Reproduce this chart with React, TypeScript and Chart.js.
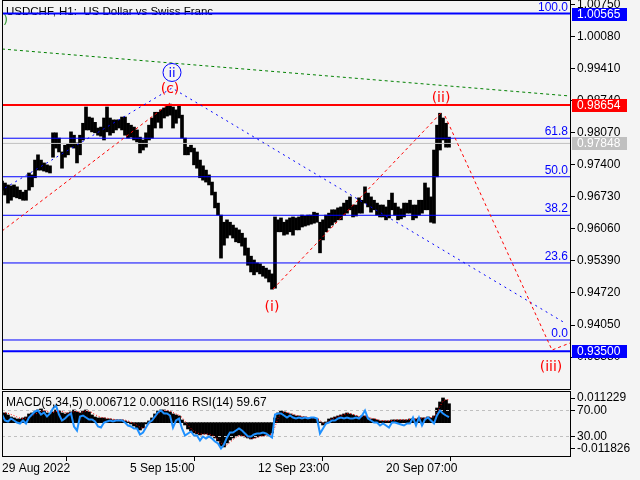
import React, { useEffect, useRef } from "react";
import { Chart, registerables } from "chart.js";

Chart.register(...registerables);

const FONT = '"Liberation Sans", Arial, sans-serif';
const WAVE_FONT = '"DejaVu Sans", sans-serif';

// ---------- data ----------
const BAR_STEP = 3; // bar index spacing between samples (hours)
const X_MAX = 568;

const titleText = "USDCHF, H1:  US Dollar vs Swiss Franc";
const indicatorText = "MACD(5,34,5) 0.006712 0.008116 RSI(14) 59.67";

const timeTickIdx = [0, 128, 256, 384];
const timeTickLabels = ["29 Aug 2022", "5 Sep 15:00", "12 Sep 23:00", "20 Sep 07:00"];

const PRICE_MIN = 0.92712;
const PRICE_MAX = 1.00827;
const priceTicks = [1.0075, 1.0008, 0.9941, 0.9874, 0.9807, 0.974, 0.9673, 0.9606, 0.9539, 0.9472, 0.9405, 0.9338];

const priceHigh = [
  0.9706, 0.9702, 0.9698, 0.9696, 0.9698, 0.9694, 0.9687, 0.9683, 0.9687, 0.9723,
  0.9719, 0.9750, 0.9761, 0.9750, 0.9744, 0.9740, 0.9738, 0.9807, 0.9807, 0.9796,
  0.9767, 0.9781, 0.9783, 0.9809, 0.9802, 0.9786, 0.9802, 0.9827, 0.9861, 0.9840,
  0.9838, 0.9829, 0.9817, 0.9819, 0.9838, 0.9861, 0.9838, 0.9834, 0.9834, 0.9834,
  0.9840, 0.9840, 0.9827, 0.9823, 0.9819, 0.9813, 0.9798, 0.9792, 0.9807, 0.9823,
  0.9838, 0.9850, 0.9850, 0.9855, 0.9859, 0.9863, 0.9867, 0.9861, 0.9855, 0.9865,
  0.9844, 0.9796, 0.9777, 0.9781, 0.9775, 0.9767, 0.9750, 0.9738, 0.9729, 0.9719,
  0.9704, 0.9683, 0.9660, 0.9635, 0.9620, 0.9625, 0.9620, 0.9614, 0.9608, 0.9604,
  0.9597, 0.9587, 0.9566, 0.9549, 0.9541, 0.9535, 0.9533, 0.9528, 0.9524, 0.9520,
  0.9512, 0.9631, 0.9625, 0.9629, 0.9620, 0.9625, 0.9629, 0.9631, 0.9629, 0.9631,
  0.9635, 0.9633, 0.9635, 0.9635, 0.9641, 0.9639, 0.9620, 0.9625, 0.9635, 0.9639,
  0.9646, 0.9646, 0.9650, 0.9652, 0.9660, 0.9666, 0.9673, 0.9656, 0.9656, 0.9671,
  0.9666, 0.9694, 0.9681, 0.9673, 0.9666, 0.9660, 0.9656, 0.9656, 0.9652, 0.9666,
  0.9681, 0.9660, 0.9652, 0.9648, 0.9660, 0.9660, 0.9666, 0.9656, 0.9656, 0.9666,
  0.9666, 0.9702, 0.9692, 0.9673, 0.9771, 0.9823, 0.9848, 0.9838, 0.9827, 0.9798,
];

const priceLow = [
  0.9687, 0.9677, 0.9660, 0.9666, 0.9673, 0.9671, 0.9669, 0.9666, 0.9666, 0.9687,
  0.9694, 0.9713, 0.9729, 0.9729, 0.9727, 0.9725, 0.9723, 0.9756, 0.9775, 0.9767,
  0.9733, 0.9756, 0.9761, 0.9777, 0.9775, 0.9744, 0.9761, 0.9792, 0.9813, 0.9813,
  0.9809, 0.9807, 0.9802, 0.9800, 0.9792, 0.9809, 0.9802, 0.9807, 0.9813, 0.9817,
  0.9813, 0.9802, 0.9796, 0.9798, 0.9792, 0.9788, 0.9765, 0.9771, 0.9777, 0.9792,
  0.9796, 0.9817, 0.9829, 0.9817, 0.9838, 0.9842, 0.9844, 0.9817, 0.9827, 0.9838,
  0.9796, 0.9761, 0.9761, 0.9767, 0.9740, 0.9733, 0.9713, 0.9708, 0.9704, 0.9698,
  0.9677, 0.9650, 0.9635, 0.9545, 0.9572, 0.9587, 0.9593, 0.9587, 0.9579, 0.9577,
  0.9570, 0.9551, 0.9530, 0.9516, 0.9510, 0.9516, 0.9512, 0.9507, 0.9503, 0.9495,
  0.9480, 0.9482, 0.9600, 0.9600, 0.9593, 0.9595, 0.9600, 0.9593, 0.9604, 0.9604,
  0.9610, 0.9612, 0.9614, 0.9616, 0.9618, 0.9620, 0.9556, 0.9583, 0.9600, 0.9608,
  0.9614, 0.9620, 0.9625, 0.9625, 0.9635, 0.9639, 0.9646, 0.9631, 0.9633, 0.9639,
  0.9639, 0.9660, 0.9652, 0.9641, 0.9646, 0.9635, 0.9631, 0.9631, 0.9625, 0.9629,
  0.9646, 0.9635, 0.9625, 0.9627, 0.9631, 0.9639, 0.9639, 0.9625, 0.9629, 0.9635,
  0.9639, 0.9646, 0.9646, 0.9620, 0.9618, 0.9715, 0.9771, 0.9792, 0.9777, 0.9777,
];

const macdHist = [
  0.00344, 0.00344, 0.00273, 0.00202, 0.00167, 0.00131, 0.00131, 0.00167, 0.00202, 0.00309,
  0.00344, 0.0038, 0.0045, 0.00486, 0.00415, 0.00344, 0.00309, 0.0038, 0.0045, 0.00415,
  0.00344, 0.00309, 0.00344, 0.0038, 0.0045, 0.0038, 0.00344, 0.00415, 0.0045, 0.0038,
  0.00273, 0.00202, 0.00167, 0.00167, 0.00167, 0.00131, 0.00131, 0.00096, 0.00096, 0.00096,
  0.00096, 0.0006, 0.00025, -0.00046, -0.00117, -0.00188, -0.00259, -0.00188, -0.00046, 0.0006,
  0.00167, 0.00309, 0.00415, 0.0045, 0.0045, 0.00415, 0.0038, 0.00309, 0.00273, 0.00238,
  0.00096, -0.00082, -0.00223, -0.00294, -0.00365, -0.00401, -0.00436, -0.00401, -0.00401, -0.00436,
  -0.00472, -0.00543, -0.00649, -0.00826, -0.00862, -0.0072, -0.00614, -0.00543, -0.00472, -0.00436,
  -0.00472, -0.00507, -0.00543, -0.00578, -0.00543, -0.00507, -0.00472, -0.00472, -0.00436, -0.00436,
  -0.00365, 0.00167, 0.00344, 0.00415, 0.0038, 0.00344, 0.00309, 0.00273, 0.00238, 0.00238,
  0.00202, 0.00202, 0.00167, 0.00167, 0.00167, 0.00131, 0.00025, -0.00082, 0.00025, 0.00131,
  0.00167, 0.00202, 0.00238, 0.00273, 0.00309, 0.00344, 0.00309, 0.00273, 0.00238, 0.00202,
  0.00238, 0.00238, 0.00167, 0.00131, 0.00131, 0.00096, 0.0006, 0.0006, 0.0006, 0.0006,
  0.00096, 0.00096, 0.00096, 0.00096, 0.00096, 0.00096, 0.00131, 0.00131, 0.00131, 0.00167,
  0.00167, 0.00167, 0.00202, 0.00167, 0.00238, 0.00521, 0.00734, 0.00876, 0.00805, 0.00671,
];

const macdSignal = [
  0.0036, 0.0035, 0.0033, 0.0029, 0.0025, 0.002, 0.0016, 0.0015, 0.0016, 0.0019,
  0.0025, 0.003, 0.0035, 0.004, 0.0043, 0.0041, 0.0037, 0.0036, 0.0039, 0.0042,
  0.004, 0.0036, 0.0034, 0.0035, 0.0039, 0.004, 0.0037, 0.0038, 0.0041, 0.0041,
  0.0036, 0.0029, 0.0023, 0.0019, 0.0017, 0.0016, 0.0014, 0.0012, 0.0011, 0.001,
  0.001, 0.0009, 0.0006, 0.0002, -0.0003, -0.0009, -0.0016, -0.002, -0.0015, -0.0006,
  0.0006, 0.0018, 0.003, 0.0039, 0.0043, 0.0044, 0.0041, 0.0036, 0.0031, 0.0027,
  0.0019, 0.0005, -0.001, -0.0021, -0.003, -0.0036, -0.004, -0.0041, -0.004, -0.0041,
  -0.0044, -0.005, -0.0059, -0.0072, -0.0081, -0.0079, -0.007, -0.006, -0.0052, -0.0046,
  -0.0045, -0.0048, -0.0052, -0.0056, -0.0056, -0.0053, -0.0049, -0.0047, -0.0045, -0.0044,
  -0.0041, -0.0015, 0.0015, 0.0033, 0.0038, 0.0036, 0.0033, 0.003, 0.0026, 0.0024,
  0.0022, 0.002, 0.0019, 0.0017, 0.0017, 0.0015, 0.0008, -0.0002, -0.0002, 0.0007,
  0.0014, 0.0018, 0.0022, 0.0025, 0.0029, 0.0032, 0.0032, 0.0029, 0.0026, 0.0022,
  0.0022, 0.0023, 0.002, 0.0016, 0.0014, 0.0011, 0.0008, 0.0007, 0.0006, 0.0006,
  0.0008, 0.0009, 0.001, 0.001, 0.001, 0.001, 0.0012, 0.0013, 0.0013, 0.0015,
  0.0016, 0.0016, 0.0018, 0.0018, 0.0021, 0.0035, 0.0058, 0.0076, 0.0082, 0.008116,
];

const rsiValues = [
  63.8, 54.6, 53.1, 57.7, 54.6, 51.5, 50.0, 54.6, 50.0, 59.2,
  63.8, 68.5, 70.0, 63.8, 66.9, 60.8, 65.4, 73.1, 77.7, 63.8,
  54.6, 57.7, 62.3, 65.4, 45.4, 39.2, 60.8, 62.3, 59.2, 56.2,
  56.2, 53.1, 45.4, 43.8, 51.5, 53.1, 54.6, 53.1, 54.6, 54.6,
  54.6, 51.5, 46.9, 45.4, 42.3, 42.3, 33.1, 36.2, 43.8, 51.5,
  54.6, 60.8, 66.9, 70.0, 65.4, 65.4, 62.3, 43.8, 54.6, 57.7,
  42.3, 31.5, 34.6, 37.7, 31.5, 31.5, 23.9, 30.0, 26.9, 30.0,
  26.9, 22.3, 19.2, 11.5, 17.7, 28.5, 36.2, 36.2, 39.2, 42.3,
  39.2, 34.6, 30.0, 30.0, 33.1, 34.6, 34.6, 36.2, 34.6, 31.5,
  28.5, 63.8, 65.4, 65.4, 62.3, 59.2, 62.3, 59.2, 57.7, 59.2,
  57.7, 59.2, 57.7, 59.2, 59.2, 57.7, 34.6, 42.3, 50.0, 51.5,
  54.6, 54.6, 57.7, 59.2, 57.7, 59.2, 57.7, 57.7, 59.2, 57.7,
  62.3, 70.0, 57.7, 54.6, 51.5, 51.5, 46.9, 50.0, 46.9, 43.8,
  51.5, 51.5, 50.0, 48.5, 46.9, 50.0, 50.0, 59.2, 46.9, 59.2,
  46.9, 56.2, 59.2, 54.6, 50.0, 62.3, 70.0, 65.4, 62.3, 59.67,
];

// Fibonacci levels
const fibLabels = ["100.0", "61.8", "50.0", "38.2", "23.6", "0.0"];
const fibPrices = [1.00565, 0.97957, 0.97151, 0.96345, 0.95348, 0.93737];

// Other horizontal levels
const resistanceLevel = 0.98654;
const bidLevel = 0.97848;
const targetLevel = 0.935;

// Marked prices on the axis
const markedPrices = [1.00565, 0.98654, 0.97848, 0.935];

// Trend / wave lines (bar index, price)
const greenLineIdx = [0, 568];
const greenLinePrice = [0.99823, 0.9884];
const blueWaveIdx = [3, 170, 563];
const blueWavePrice = [0.96916, 0.99007, 0.94092];
const redCIdx = [0, 168];
const redCPrice = [0.96016, 0.98694];
const redUpIdx = [271, 439];
const redUpPrice = [0.94803, 0.98484];
const redDownIdx = [443, 550, 568];
const redDownPrice = [0.98422, 0.93527, 0.93674];

// Wave labels
const waveLabels = ["(c)", "(ii)", "(i)", "(iii)"];
const waveLabelIdx = [168, 439, 270, 549];
const waveLabelPrice = [0.98976, 0.98788, 0.94427, 0.93161];
const circleLabel = "ii";
const circleLabelIdx = 170;
const circleLabelPrice = 0.99332;

// Sub window
const MACD_MAX = 0.011229;
const MACD_MIN = -0.011826;
const rsiLevels = [70, 30];
const subTickPos = [89, 70, 30, 11];
const subTickLabels = ["0.011229", "70.00", "30.00", "-0.011826"];

// ---------- helpers ----------
const pts = (idx: number[], vals: number[]) => idx.map((x, i) => ({ x, y: vals[i] }));
const series = (vals: number[]) => vals.map((v, i) => ({ x: i * BAR_STEP, y: v }));

function hLine(price: number, color: string, width: number, dash: number[] = [], yAxisID = "y") {
  return {
    type: "line",
    data: [{ x: 0, y: price }, { x: X_MAX, y: price }],
    borderColor: color,
    borderWidth: width,
    borderDash: dash,
    pointRadius: 0,
    yAxisID,
    order: 2,
  };
}

function segLine(data: any[], color: string, dash: number[]) {
  return {
    type: "line",
    data,
    borderColor: color,
    borderWidth: 1,
    borderDash: dash,
    pointRadius: 0,
    tension: 0,
    order: 1,
  };
}

const mainDecor = {
  id: "mainDecor",
  beforeDatasetsDraw(chart: any) {
    const ctx = chart.ctx;
    ctx.save();
    ctx.fillStyle = "#000";
    ctx.font = `11.5px ${FONT}`;
    ctx.textAlign = "left";
    ctx.textBaseline = "alphabetic";
    ctx.fillText(titleText, 6, 15);
    ctx.fillStyle = "#3a9a3a";
    ctx.font = `13px ${WAVE_FONT}`;
    ctx.fillText(")", 3, 24);
    ctx.restore();
  },
  afterDatasetsDraw(chart: any) {
    const { ctx, chartArea } = chart;
    const xs = chart.scales.x;
    const ys = chart.scales.y;
    ctx.save();
    // fib labels
    ctx.font = `12px ${FONT}`;
    ctx.fillStyle = "#0000ff";
    ctx.textAlign = "right";
    ctx.textBaseline = "alphabetic";
    fibLabels.forEach((t, i) => {
      ctx.fillText(t, chartArea.right - 2, Math.round(ys.getPixelForValue(fibPrices[i])) - 3);
    });
    // wave labels
    ctx.font = `14px ${WAVE_FONT}`;
    ctx.fillStyle = "#ff0000";
    ctx.textAlign = "center";
    ctx.textBaseline = "middle";
    waveLabels.forEach((t, i) => {
      ctx.fillText(t, xs.getPixelForValue(waveLabelIdx[i]), ys.getPixelForValue(waveLabelPrice[i]));
    });
    // circled label
    const cx = xs.getPixelForValue(circleLabelIdx);
    const cy = ys.getPixelForValue(circleLabelPrice);
    ctx.strokeStyle = "#0000ff";
    ctx.lineWidth = 1;
    ctx.beginPath();
    ctx.arc(cx, cy, 9, 0, Math.PI * 2);
    ctx.stroke();
    ctx.fillStyle = "#0000ff";
    ctx.font = `13px ${WAVE_FONT}`;
    ctx.fillText(circleLabel, cx, cy + 1);
    ctx.restore();
  },
  afterDraw(chart: any) {
    const { ctx, chartArea } = chart;
    const ys = chart.scales.y;
    ctx.save();
    const boxColors = ["#0000ff", "#ff0000", "#c0c0c0", "#0000ff"];
    ctx.font = `12px ${FONT}`;
    ctx.textAlign = "left";
    ctx.textBaseline = "middle";
    markedPrices.forEach((p, i) => {
      const py = Math.round(ys.getPixelForValue(p));
      ctx.fillStyle = boxColors[i];
      ctx.fillRect(chartArea.right + 2, py - 6, 55, 13);
      ctx.fillStyle = "#ffffff";
      ctx.fillText(p.toFixed(5), chartArea.right + 7, py + 1);
    });
    ctx.strokeStyle = "#000";
    ctx.lineWidth = 1;
    ctx.strokeRect(chartArea.left + 0.5, chartArea.top - 0.5, chartArea.right - chartArea.left, chartArea.bottom - chartArea.top + 1);
    ctx.restore();
  },
};

const subDecor = {
  id: "subDecor",
  afterDraw(chart: any) {
    const { ctx, chartArea } = chart;
    ctx.save();
    ctx.fillStyle = "#000";
    ctx.font = `12px ${FONT}`;
    ctx.textAlign = "left";
    ctx.textBaseline = "alphabetic";
    ctx.fillText(indicatorText, 6, 16);
    ctx.strokeStyle = "#000";
    ctx.lineWidth = 1;
    ctx.strokeRect(chartArea.left + 0.5, chartArea.top + 0.5, chartArea.right - chartArea.left, chartArea.bottom - chartArea.top);
    ctx.restore();
  },
};

function mainConfig(): any {
  const datasets: any[] = [];
  datasets.push(segLine(pts(redCIdx, redCPrice), "#ff0000", [3, 3]));
  datasets.push(segLine(pts(redUpIdx, redUpPrice), "#ff0000", [3, 3]));
  datasets.push(segLine(pts(redDownIdx, redDownPrice), "#ff0000", [3, 3]));
  datasets.push(segLine(pts(blueWaveIdx, blueWavePrice), "#0000ff", [2, 4]));
  datasets.push(segLine(pts(greenLineIdx, greenLinePrice), "#008000", [3, 3]));
  fibPrices.forEach((p, i) => datasets.push(hLine(p, "#0000ff", i === 0 ? 2 : 1)));
  datasets.push(hLine(resistanceLevel, "#ff0000", 2));
  datasets.push(hLine(bidLevel, "#c0c0c0", 1));
  datasets.push(hLine(targetLevel, "#0000ff", 2));
  datasets.push({
    type: "bar",
    data: priceHigh.map((h, i) => ({ x: i * BAR_STEP, y: [priceLow[i], h] })),
    backgroundColor: "#000",
    borderWidth: 0,
    barThickness: 3,
    grouped: false,
    order: 10,
  });
  return {
    type: "bar",
    data: { datasets },
    options: {
      responsive: false,
      animation: false,
      devicePixelRatio: 1,
      events: [],
      layout: { padding: { left: 2, top: 1, right: 0, bottom: 1 } },
      plugins: { legend: { display: false }, tooltip: { enabled: false } },
      scales: {
        x: { type: "linear", min: 0, max: X_MAX, offset: false, display: false },
        y: {
          type: "linear",
          position: "right",
          min: PRICE_MIN,
          max: PRICE_MAX,
          beginAtZero: false,
          afterBuildTicks: (s: any) => {
            s.ticks = priceTicks.map((v) => ({ value: v }));
          },
          afterFit: (s: any) => {
            s.width = 70;
            s.paddingTop = 0;
            s.paddingBottom = 0;
          },
          ticks: {
            callback: (v: any) => Number(v).toFixed(5),
            font: { family: FONT, size: 12 },
            color: "#000",
            padding: 2,
            autoSkip: false,
          },
          grid: { drawOnChartArea: false, drawTicks: true, tickLength: 5, color: "#000" },
          border: { display: true, color: "#000" },
        },
      },
    },
    plugins: [mainDecor],
  };
}

function subConfig(): any {
  const datasets: any[] = [
    {
      type: "line",
      data: series(rsiValues),
      borderColor: "#1e90ff",
      borderWidth: 2,
      pointRadius: 0,
      tension: 0,
      yAxisID: "yRsi",
      order: 0,
    },
    {
      type: "line",
      data: series(macdSignal),
      borderColor: "#ff0000",
      borderWidth: 1,
      borderDash: [1, 2],
      pointRadius: 0,
      tension: 0,
      yAxisID: "yMacd",
      order: 1,
    },
    ...rsiLevels.map((lv) => ({ ...hLine(lv, "#c0c0c0", 1, [3, 3], "yRsi"), order: 3 })),
    {
      type: "bar",
      data: series(macdHist),
      backgroundColor: "#000",
      borderWidth: 0,
      barThickness: 3,
      grouped: false,
      yAxisID: "yMacd",
      order: 5,
    },
  ];
  return {
    type: "bar",
    data: { datasets },
    options: {
      responsive: false,
      animation: false,
      devicePixelRatio: 1,
      events: [],
      layout: { padding: { left: 2, top: 1, right: 0, bottom: 0 } },
      plugins: { legend: { display: false }, tooltip: { enabled: false } },
      scales: {
        x: {
          type: "linear",
          min: 0,
          max: X_MAX,
          offset: false,
          position: "bottom",
          afterBuildTicks: (s: any) => {
            s.ticks = timeTickIdx.map((v) => ({ value: v }));
          },
          afterFit: (s: any) => {
            s.height = 24;
            s.paddingLeft = 0;
            s.paddingRight = 0;
          },
          ticks: {
            callback: (v: any) => timeTickLabels[timeTickIdx.indexOf(Number(v))] ?? "",
            align: "start",
            maxRotation: 0,
            minRotation: 0,
            autoSkip: false,
            font: { family: FONT, size: 12 },
            color: "#000",
            padding: 0,
          },
          grid: { drawOnChartArea: false, drawTicks: true, tickLength: 5, color: "#000" },
          border: { display: false },
        },
        yMacd: {
          type: "linear",
          display: false,
          min: MACD_MIN,
          max: MACD_MAX,
          beginAtZero: false,
        },
        yRsi: {
          type: "linear",
          position: "right",
          min: 0,
          max: 100,
          beginAtZero: false,
          afterBuildTicks: (s: any) => {
            s.ticks = subTickPos.map((v) => ({ value: v }));
          },
          afterFit: (s: any) => {
            s.width = 70;
            s.paddingTop = 0;
            s.paddingBottom = 0;
          },
          ticks: {
            callback: (v: any) => subTickLabels[subTickPos.indexOf(Number(v))] ?? "",
            font: { family: FONT, size: 12 },
            color: "#000",
            padding: 2,
            autoSkip: false,
          },
          grid: { drawOnChartArea: false, drawTicks: true, tickLength: 5, color: "#000" },
          border: { display: true, color: "#000" },
        },
      },
    },
    plugins: [subDecor],
  };
}

export default function App() {
  const mainRef = useRef<HTMLCanvasElement>(null);
  const subRef = useRef<HTMLCanvasElement>(null);
  useEffect(() => {
    const main = new Chart(mainRef.current as HTMLCanvasElement, mainConfig());
    const sub = new Chart(subRef.current as HTMLCanvasElement, subConfig());
    return () => {
      main.destroy();
      sub.destroy();
    };
  }, []);
  return (
    <div
      style={{
        position: "absolute",
        left: 0,
        top: 0,
        width: 640,
        height: 480,
        background: "#f4f4f4",
        overflow: "hidden",
      }}
    >
      <canvas
        ref={mainRef}
        width={640}
        height={390}
        style={{ position: "absolute", left: 0, top: 0, width: 640, height: 390 }}
      />
      <canvas
        ref={subRef}
        width={640}
        height={90}
        style={{ position: "absolute", left: 0, top: 390, width: 640, height: 90 }}
      />
    </div>
  );
}
